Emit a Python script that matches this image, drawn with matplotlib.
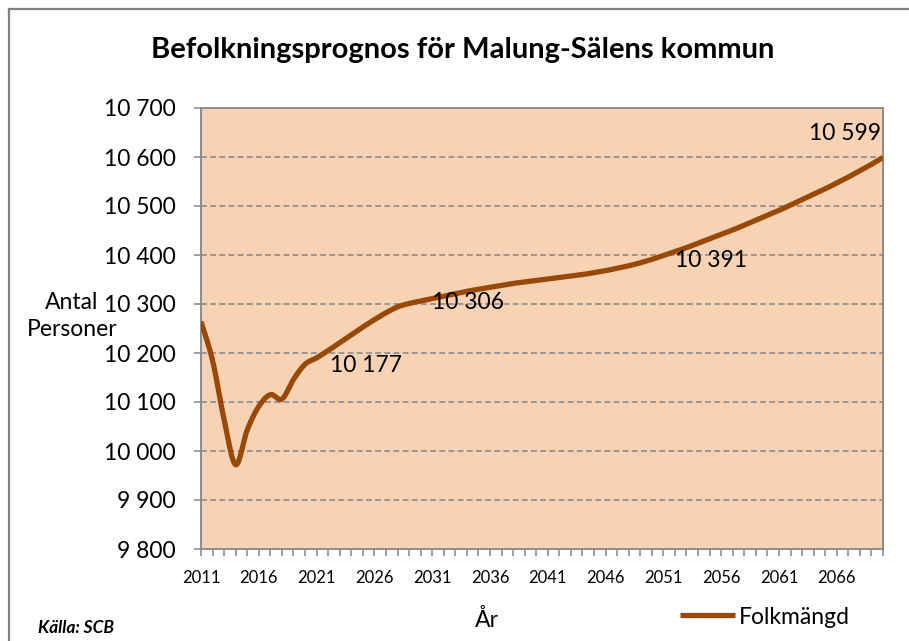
import matplotlib.pyplot as plt
import matplotlib.lines as mlines
import numpy as np

plt.rcParams['font.family'] = ['Lato', 'DejaVu Sans']

# folkmängd per år
years = list(range(2011, 2071))
folk = [10264, 10185, 10064, 9972, 10043, 10091, 10115, 10106, 10146, 10177,
        10190, 10205, 10221, 10237, 10253, 10268, 10282, 10294, 10301, 10306,
        10311, 10316, 10321, 10326, 10330, 10334, 10338, 10342, 10345, 10348,
        10351, 10354, 10357, 10360, 10364, 10368, 10373, 10378, 10384, 10391,
        10399, 10407, 10415, 10424, 10433, 10442, 10451, 10461, 10471, 10481,
        10491, 10502, 10513, 10524, 10535, 10547, 10559, 10572, 10585, 10599]
label_years = [2020, 2030, 2050, 2070]
xtick_years = list(range(2011, 2067, 5))
yticks = list(range(9800, 10701, 100))

LINE = '#984807'
GRID = '#8c8c8c'


def smooth(x, y, n=20):
    # catmull-rom -> bezier, ungefär som excels "utjämnad linje"
    x = np.asarray(x, float)
    y = np.asarray(y, float)
    P = np.column_stack([x, y])
    P = np.vstack([P[0], P, P[-1]])
    out = []
    t = np.linspace(0, 1, n, endpoint=False)[:, None]
    for i in range(1, len(P) - 2):
        p0, p1, p2, p3 = P[i - 1], P[i], P[i + 1], P[i + 2]
        c1 = p1 + (p2 - p0) / 6
        c2 = p2 - (p3 - p1) / 6
        b = ((1 - t) ** 3) * p1 + 3 * ((1 - t) ** 2) * t * c1 + 3 * (1 - t) * t ** 2 * c2 + t ** 3 * p2
        out.append(b)
    out.append(P[-2][None, :])
    out = np.vstack(out)
    return out[:, 0], out[:, 1]


fig = plt.figure(figsize=(9.09, 6.41), dpi=100)
W, H = 909, 641

# ram runt diagrammet
fig.add_artist(mlines.Line2D([8.5 / W, 8.5 / W], [0, 1 - 9 / H], color='#808080', lw=1.6))
fig.add_artist(mlines.Line2D([8.5 / W, 1], [1 - 9 / H, 1 - 9 / H], color='#808080', lw=1.6))

ax = fig.add_axes([201 / W, (H - 549) / H, 682 / W, 441 / H])
ax.set_facecolor('#F7D3B3')

sx, sy = smooth(years, folk)
ln, = ax.plot(sx, sy, color=LINE, lw=3.8, solid_capstyle='butt', zorder=3)

ax.set_xlim(2011, 2070)
ax.set_ylim(9800, 10700)
ax.set_yticks(yticks)
ax.set_yticklabels([f'{v:,}'.replace(',', ' ') for v in yticks], fontsize=16.5)
ax.set_xticks(xtick_years)
ax.set_xticklabels([str(v) for v in xtick_years], fontsize=12)
ax.set_xticks(years, minor=True)
ax.tick_params(axis='y', length=5, width=1.2, color=GRID, pad=13)
ax.tick_params(axis='x', which='both', length=5, width=1.2, color=GRID, pad=10)

for v in yticks[1:-1]:
    ax.axhline(v, color=GRID, lw=1.2, ls=(0, (3.5, 2)), zorder=1)
for s in ax.spines.values():
    s.set_color(GRID)
    s.set_linewidth(1.4)

# dataetiketter
offs = {2020: (25, -1, 'left'), 2030: (11, -1, 'left'), 2050: (23, -1, 'left'), 2070: (-38, 24, 'center')}
for yr in label_years:
    v = folk[years.index(yr)]
    dx, dy, ha = offs[yr]
    ax.annotate(f'{v:,}'.replace(',', ' '), (yr, v), xytext=(dx, dy), textcoords='offset pixels',
                ha=ha, va='center', fontsize=16.5, zorder=4, annotation_clip=False)

fig.text(0.5 * (148 + 778) / W, 1 - 50 / H, 'Befolkningsprognos för Malung-Sälens kommun',
         ha='center', va='center', fontsize=21, fontweight='bold')
fig.text(72 / W, 1 - 316 / H, 'Antal\nPersoner', ha='center', va='center', fontsize=16.5,
         linespacing=1.35)
fig.text(487 / W, 1 - 620 / H, 'År', ha='center', va='center', fontsize=16.5)
fig.text(38 / W, 1 - 628 / H, 'Källa: SCB', ha='left', va='center', fontsize=12.5,
         fontweight='bold', fontstyle='italic')

fig.legend([ln], ['Folkmängd'], loc='center left', bbox_to_anchor=(680 / W, 1 - 617 / H),
           frameon=False, fontsize=16.5, handlelength=2.4, handletextpad=0.15,
           borderpad=0, borderaxespad=0)

fig.savefig('out.png', dpi=100)
